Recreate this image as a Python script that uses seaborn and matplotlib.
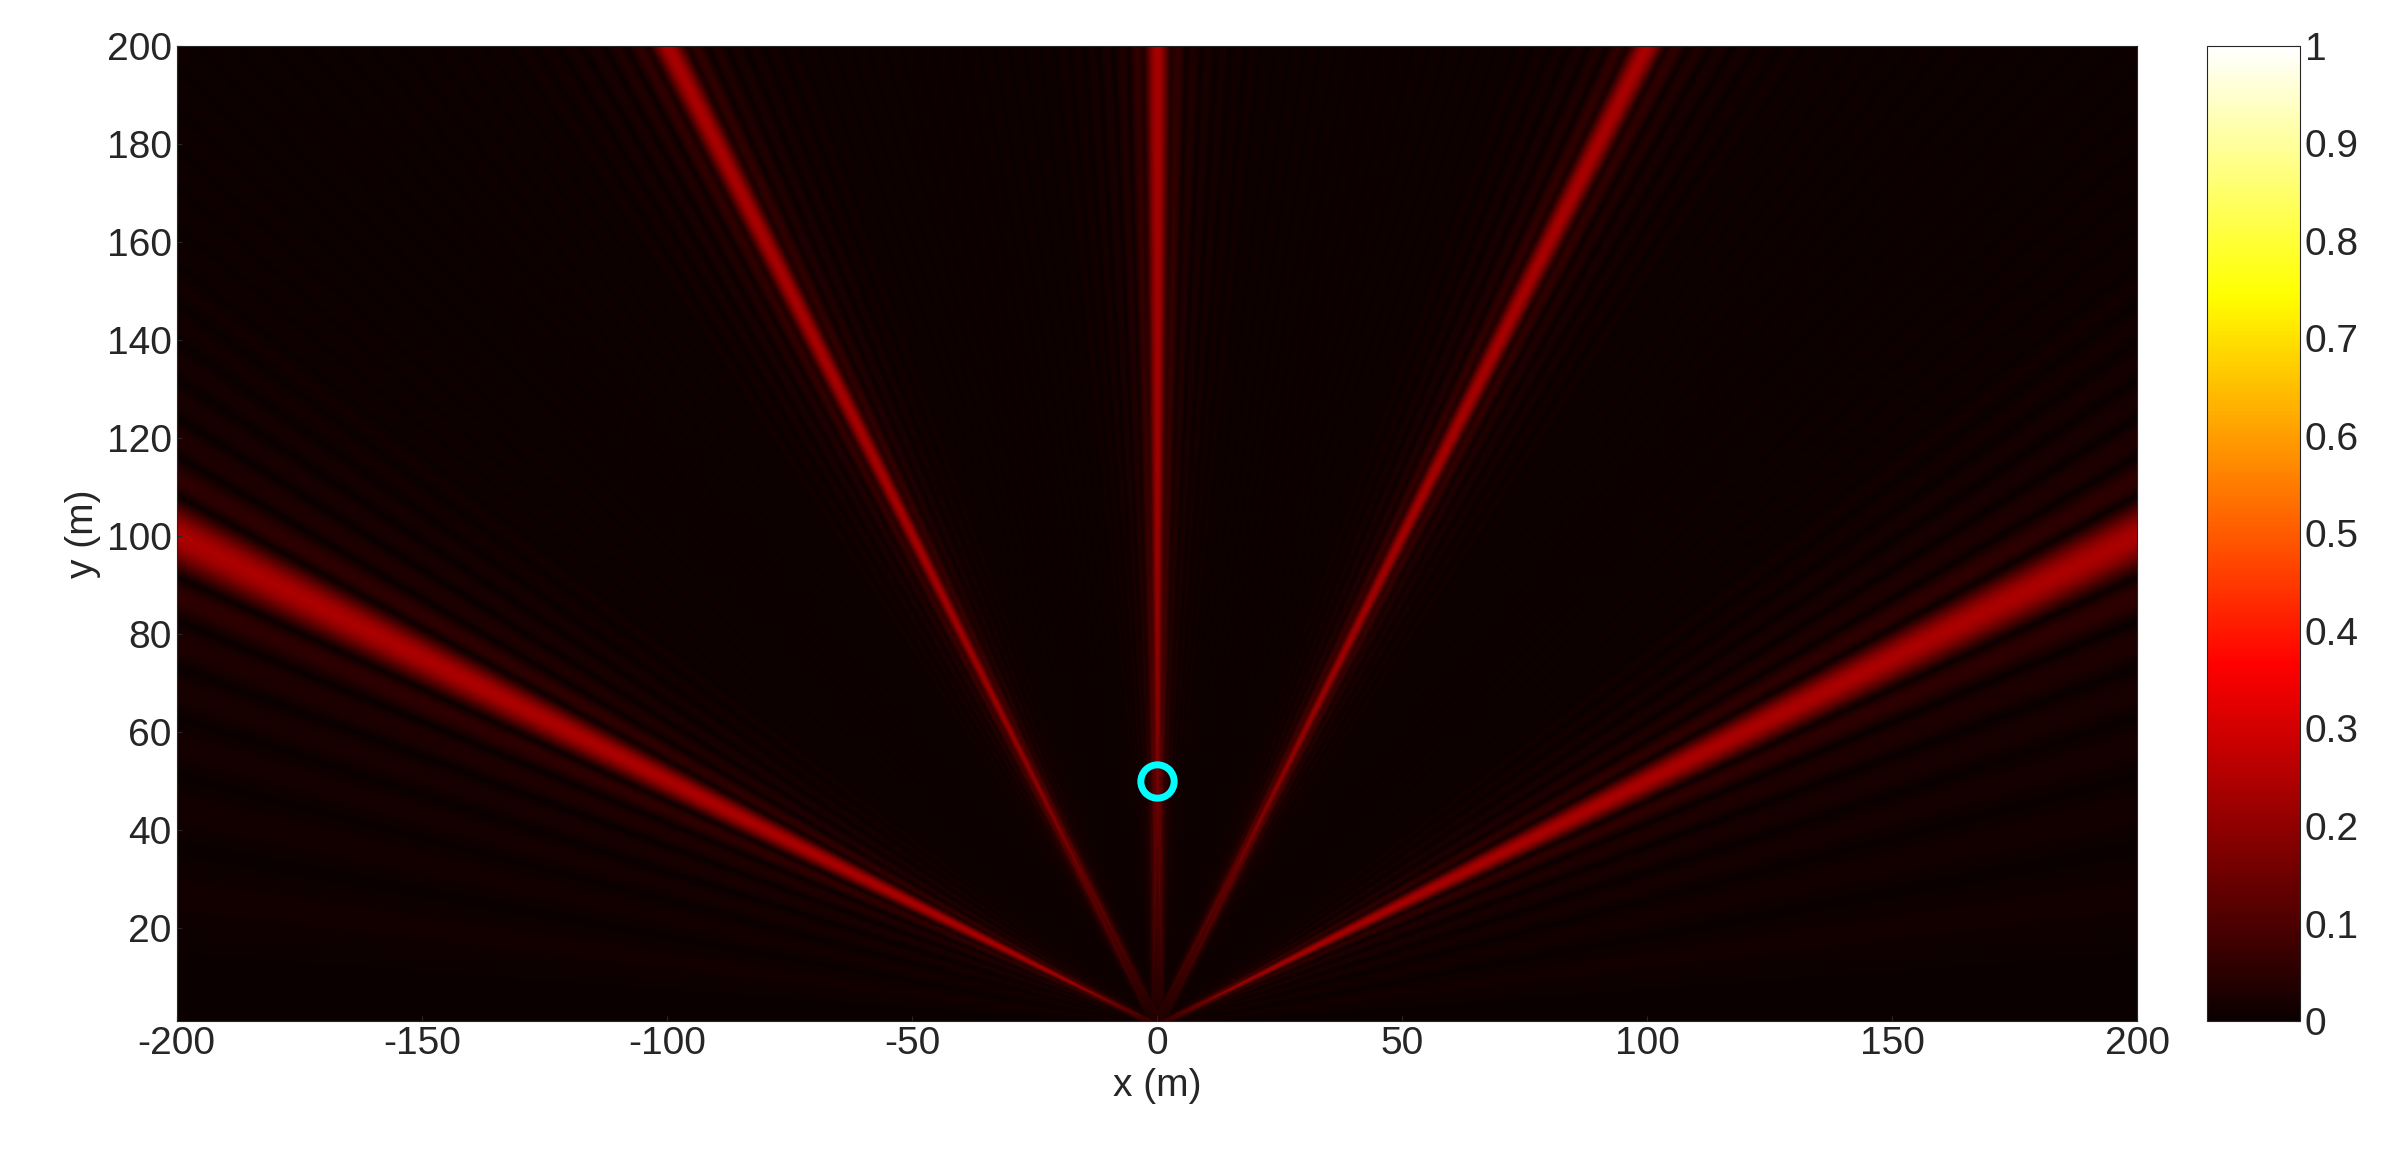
import numpy as np
import seaborn as sns
from matplotlib import pyplot as plt

# array / scene parameters
wavelength = 0.04         # m
spacing_ratio = 2.236     # element spacing / wavelength (grating lobes at sin = 0.447 k)
n_elements = 30
marker = [0.0, 50.0]      # cyan circle (m)
x_range = [-200, 200]
y_range = [1, 200]
cbar_ticks = [0, 0.1, 0.2, 0.3, 0.4, 0.5, 0.6, 0.7, 0.8, 0.9, 1]
level_scale = 0.24        # peak lobe level on the colour scale

sns.set_style("ticks")
plt.rcParams['font.family'] = ['Liberation Sans', 'DejaVu Sans']
plt.rcParams['axes.unicode_minus'] = False

k = 2 * np.pi / wavelength
d = spacing_ratio * wavelength
xe = (np.arange(n_elements) - (n_elements - 1) / 2) * d

x = np.linspace(x_range[0], x_range[1], 2400)
y = np.linspace(y_range[0], y_range[1], 1200)
X, Y = np.meshgrid(x, y)
field = np.zeros_like(X, dtype=complex)
for e in xe:
    field += np.exp(1j * k * np.hypot(X - e, Y))
amp = np.abs(field) / n_elements * level_scale

fig = plt.figure(figsize=(23.88, 11.71), dpi=100)
ax = fig.add_axes([0.074, 0.128, 0.821, 0.833])
cax = fig.add_axes([0.924, 0.128, 0.039, 0.833])
im = ax.imshow(amp, origin="lower", cmap="hot", vmin=0, vmax=1, aspect="auto",
               extent=[x_range[0], x_range[1], y_range[0], y_range[1]], interpolation="bilinear")
ax.plot(marker[0], marker[1], "o", ms=24, mfc="none", mec="cyan", mew=5)
ax.set_xlim(x_range)
ax.set_ylim(y_range)
ax.set_xticks(np.arange(-200, 201, 50))
ax.set_yticks(np.arange(20, 201, 20))
ax.set_xlabel("x (m)", fontsize=28)
ax.set_ylabel("y (m)", fontsize=28)
ax.tick_params(labelsize=28, direction="in")
cb = fig.colorbar(im, cax=cax, ticks=cbar_ticks)
cb.ax.set_yticklabels([("%g" % t) for t in cbar_ticks])
cb.ax.tick_params(labelsize=28, direction="in")
plt.savefig("out.png", dpi=100)
